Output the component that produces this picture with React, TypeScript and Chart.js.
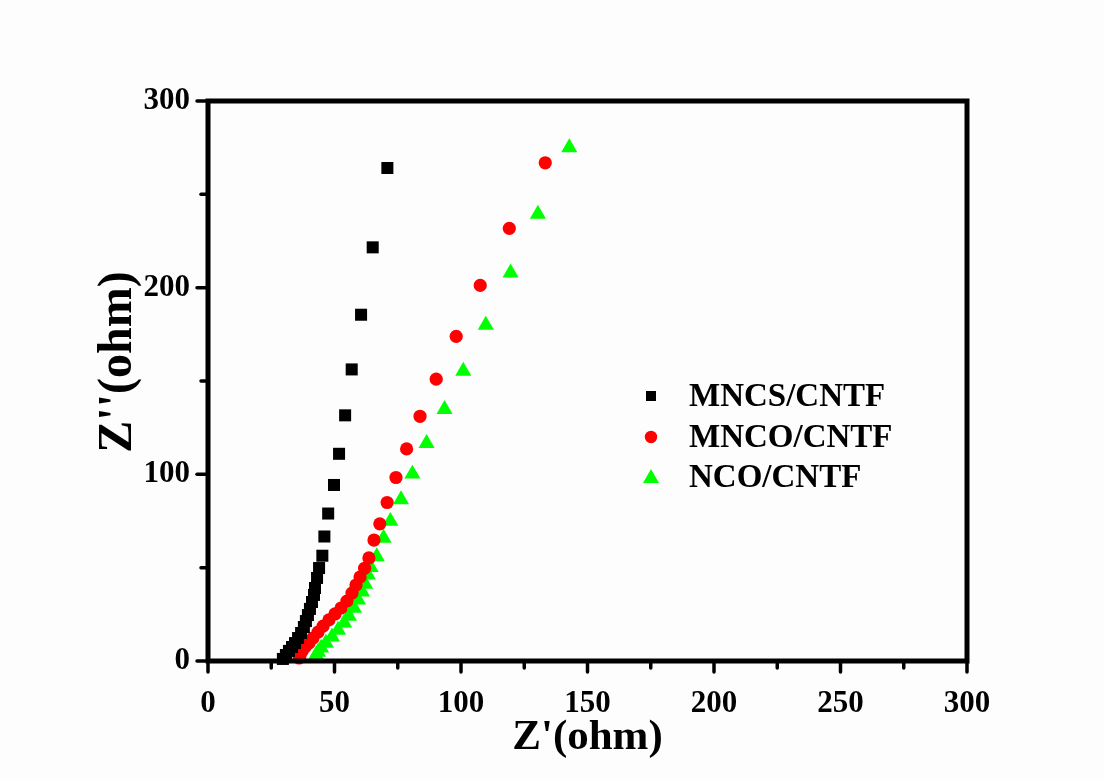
import React, { useEffect, useRef } from "react";
import { Chart, registerables } from "chart.js";

Chart.register(...registerables);

const seriesLabels = ["MNCS/CNTF", "MNCO/CNTF", "NCO/CNTF"];
const seriesColors = ["#000000", "#ff0000", "#00ff00"];

const mncsX = [29.6, 30.8, 32.0, 33.2, 34.4, 35.6, 36.8, 37.9, 38.7, 39.5, 40.3, 41.1, 41.9, 42.3, 43.1, 43.9, 45.2, 46.0, 47.5, 49.8, 51.8, 54.2, 56.8, 60.5, 65.1, 70.9];
const mncsY = [1.1, 3.2, 5.4, 7.5, 9.6, 12.3, 15.0, 18.2, 21.4, 24.6, 27.9, 31.6, 35.4, 39.1, 44.5, 49.8, 56.4, 66.7, 79.0, 94.3, 111.0, 131.6, 156.2, 185.5, 221.6, 264.1];

const mncoX = [36.0, 36.4, 37.2, 38.3, 39.9, 41.5, 43.5, 45.5, 47.8, 50.2, 52.6, 54.9, 56.9, 58.5, 60.1, 61.9, 63.6, 65.6, 67.9, 70.8, 74.3, 78.5, 83.8, 90.2, 98.1, 107.6, 119.1, 133.3];
const mncoY = [1.6, 3.2, 5.4, 7.5, 9.6, 12.3, 15.5, 18.7, 22.0, 25.2, 28.4, 32.1, 36.4, 40.7, 45.0, 49.7, 55.2, 64.8, 73.5, 84.9, 98.3, 113.6, 131.1, 151.0, 173.9, 201.2, 231.8, 266.9];

const ncoX = [42.3, 42.7, 43.5, 44.7, 46.6, 49.0, 51.4, 53.8, 55.7, 57.7, 59.3, 60.9, 62.1, 63.2, 64.3, 66.7, 69.4, 72.1, 76.3, 80.8, 86.4, 93.5, 100.9, 109.8, 119.6, 130.4, 142.8];
const ncoY = [1.6, 3.2, 4.8, 7.0, 9.6, 12.9, 16.6, 20.4, 24.1, 28.4, 32.7, 37.0, 41.2, 46.1, 50.2, 55.9, 65.9, 74.9, 86.5, 100.2, 116.6, 134.8, 155.3, 180.0, 208.0, 239.4, 275.1];

const xTickValues = [0, 50, 100, 150, 200, 250, 300];
const yTickValues = [0, 100, 200, 300];
const xTitle = "Z'(ohm)";
const yTitle = "Z''(ohm)";

const FONT = "'Liberation Serif', 'Times New Roman', serif";

function pts(xs: number[], ys: number[]) {
  return xs.map((x, i) => ({ x, y: ys[i] }));
}

function drawMarker(ctx: CanvasRenderingContext2D, style: string, x: number, y: number, color: string) {
  ctx.save();
  ctx.fillStyle = color;
  ctx.beginPath();
  if (style === "rect") {
    ctx.rect(x - 5, y - 5, 10, 10);
  } else if (style === "circle") {
    ctx.arc(x, y, 6.2, 0, Math.PI * 2);
  } else {
    ctx.moveTo(x, y - 8);
    ctx.lineTo(x + 8, y + 6);
    ctx.lineTo(x - 8, y + 6);
    ctx.closePath();
  }
  ctx.fill();
  ctx.restore();
}

const framePlugin = {
  id: "frameAndTicks",
  afterDraw(chart: any) {
    const { ctx, chartArea } = chart;
    const { left, right, top, bottom } = chartArea;
    ctx.save();
    ctx.strokeStyle = "#000";
    ctx.lineCap = "round";
    const xs = chart.scales.x;
    const ys = chart.scales.y;
    ctx.lineWidth = 3.5;
    xs.ticks.forEach((t: any) => {
      const px = xs.getPixelForValue(t.value);
      const major = xTickValues.includes(t.value);
      ctx.beginPath();
      ctx.moveTo(px, bottom);
      ctx.lineTo(px, bottom + (major ? 11 : 7));
      ctx.stroke();
    });
    ys.ticks.forEach((t: any) => {
      const py = ys.getPixelForValue(t.value);
      const major = yTickValues.includes(t.value);
      ctx.beginPath();
      ctx.moveTo(left, py);
      ctx.lineTo(left - (major ? 11 : 7), py);
      ctx.stroke();
    });
    ctx.lineWidth = 5;
    ctx.lineJoin = "miter";
    ctx.strokeRect(left, top, right - left, bottom - top);

    // y title
    ctx.save();
    ctx.translate(131, 362);
    ctx.rotate(-Math.PI / 2);
    ctx.font = `bold 48px ${FONT}`;
    ctx.textAlign = "center";
    ctx.textBaseline = "alphabetic";
    ctx.fillStyle = "#000";
    ctx.fillText(yTitle, 0, 0);
    ctx.restore();

    // legend
    const styles = ["rect", "circle", "triangle"];
    const rowsY = [396, 437, 477];
    ctx.font = `bold 33px ${FONT}`;
    ctx.textBaseline = "middle";
    ctx.textAlign = "left";
    chart.data.datasets.forEach((ds: any, i: number) => {
      drawMarker(ctx, styles[i], 651, rowsY[i], ds.backgroundColor);
      ctx.fillStyle = "#000";
      ctx.fillText(ds.label, 689, rowsY[i] + 1);
    });
    ctx.restore();
  },
};

const bgPlugin = {
  id: "bg",
  beforeDraw(chart: any) {
    const { ctx, width, height } = chart;
    ctx.save();
    ctx.fillStyle = "#fdfdfd";
    ctx.fillRect(0, 0, width, height);
    ctx.restore();
  },
};

export default function App() {
  const ref = useRef<HTMLCanvasElement | null>(null);
  useEffect(() => {
    if (!ref.current) return;
    const chart = new Chart(ref.current, {
      type: "scatter",
      data: {
        datasets: [
          { label: seriesLabels[0], data: pts(mncsX, mncsY), pointStyle: "rect", pointRadius: 8.5, backgroundColor: seriesColors[0], borderColor: seriesColors[0], borderWidth: 0, clip: 10 } as any,
          { label: seriesLabels[1], data: pts(mncoX, mncoY), pointStyle: "circle", pointRadius: 6.6, backgroundColor: seriesColors[1], borderColor: seriesColors[1], borderWidth: 0, clip: 10 } as any,
          { label: seriesLabels[2], data: pts(ncoX, ncoY), pointStyle: "triangle", pointRadius: 9.3, backgroundColor: seriesColors[2], borderColor: seriesColors[2], borderWidth: 0, clip: 10 } as any,
        ],
      },
      options: {
        animation: false,
        responsive: true,
        maintainAspectRatio: false,
        layout: { padding: { top: 101, right: 137, left: 0, bottom: 0 } },
        plugins: { legend: { display: false }, tooltip: { enabled: false } },
        scales: {
          x: {
            type: "linear",
            min: 0,
            max: 300,
            afterFit(scale: any) { scale.height = 119; },
            grid: { display: false, drawTicks: false },
            border: { display: false },
            ticks: {
              stepSize: 25,
              autoSkip: false,
              maxRotation: 0,
              padding: 24,
              color: "#000",
              font: { family: FONT, size: 31, weight: "bold" },
              callback: (v: any) => (xTickValues.includes(Number(v)) ? String(v) : ""),
            },
            title: {
              display: true,
              text: xTitle,
              color: "#000",
              font: { family: FONT, size: 43, weight: "bold" },
              padding: { top: 0, bottom: 16 },
            },
          },
          y: {
            type: "linear",
            min: 0,
            max: 300,
            afterFit(scale: any) { scale.width = 208; },
            grid: { display: false, drawTicks: false },
            border: { display: false },
            ticks: {
              stepSize: 50,
              autoSkip: false,
              padding: 18,
              color: "#000",
              font: { family: FONT, size: 31, weight: "bold" },
              callback: (v: any) => (yTickValues.includes(Number(v)) ? String(v) : ""),
            },
            title: { display: false },
          },
        },
      },
      plugins: [bgPlugin, framePlugin],
    });
    return () => chart.destroy();
  }, []);
  return (
    <div style={{ position: "absolute", left: 0, top: 0, width: 1104, height: 780 }}>
      <canvas ref={ref} />
    </div>
  );
}
